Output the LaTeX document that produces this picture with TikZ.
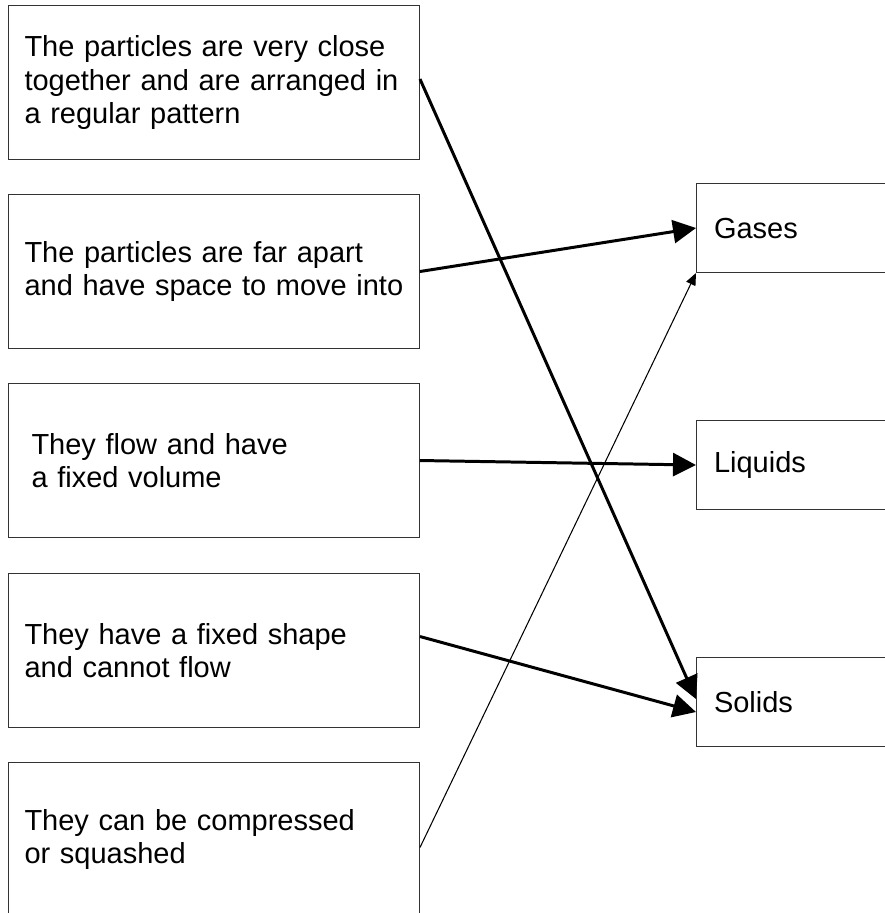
\documentclass[tikz,border=0pt]{standalone}
\usepackage{fontspec}
\setmainfont{Liberation Sans}
\usetikzlibrary{arrows.meta}

\begin{document}
\begin{tikzpicture}[x=0.02cm, y=-0.02cm,
  statebox/.style={draw=black!80, line width=0.6pt, rectangle, anchor=north west,
    minimum width=8.22cm, minimum height=3.08cm, text width=7.58cm, inner xsep=0.32cm,
    align=left, font=\fontsize{16.5}{18.8}\selectfont},
  phasebox/.style={draw=black!80, line width=0.6pt, rectangle, anchor=north west,
    minimum width=5cm, minimum height=1.78cm, text width=4.3cm, inner xsep=0.34cm,
    align=left, font=\fontsize{16.5}{18.8}\selectfont},
  matcharrow/.style={line width=1.7pt, -{Triangle[length=0.46cm, width=0.46cm]}},
  thinarrow/.style={line width=0.6pt, -{Triangle[length=0.24cm, width=0.2cm]}}]
% Page size (the boxes run off the right and the bottom)
\useasboundingbox (0,0) rectangle (885,913);
\clip (0,0) rectangle (885,913);

% Statements on the left
\node[statebox] (s1) at (8,5) {The particles are very close\\together and are arranged in\\a regular pattern};
\node[statebox] (s2) at (8,194) {The particles are far apart\\and have space to move into};
\node[statebox, inner xsep=0.46cm, text width=7.3cm] (s3) at (8,383) {They flow and have\\a fixed volume};
\node[statebox] (s4) at (8,573) {They have a fixed shape\\and cannot flow};
\node[statebox] (s5) at (8,762) {They can be compressed\\or squashed};

% States of matter on the right
\node[phasebox] (ga) at (696,183) {Gases};
\node[phasebox] (li) at (696,420) {Liquids};
\node[phasebox] (so) at (696,657) {Solids};

% Matching lines
\draw[matcharrow] ([yshift=0.07cm]s1.east) -- ([yshift=0.06cm]so.west);
\draw[matcharrow] (s2.east) -- (ga.west);
\draw[matcharrow] (s3.east) -- (li.west);
\draw[matcharrow] ([yshift=0.28cm]s4.east) -- ([yshift=-0.2cm]so.west);
\draw[thinarrow] ([yshift=-0.16cm]s5.east) -- (ga.south west);
\end{tikzpicture}
\end{document}
